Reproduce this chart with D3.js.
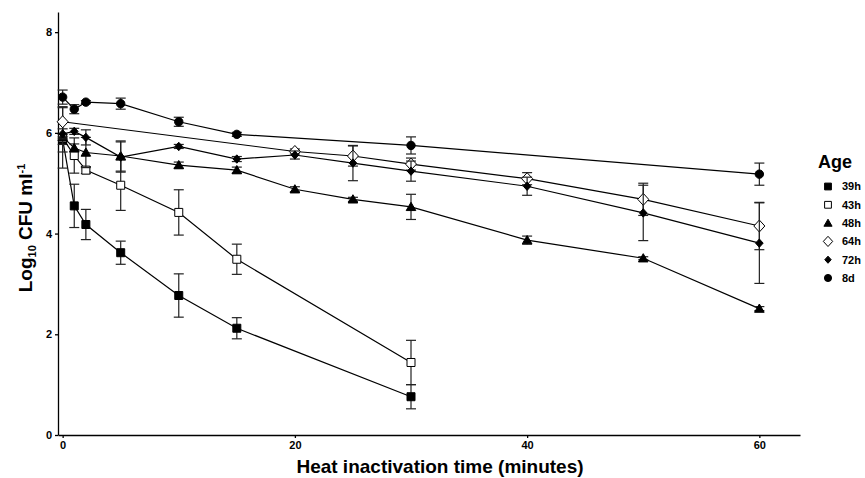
<!DOCTYPE html>
<html lang="en">
<head>
  <meta charset="UTF-8">
  <title>Heat inactivation by age</title>
  <script src="https://d3js.org/d3.v7.min.js"></script>
  <style>
    body {
      margin: 0;
      padding: 0;
      background: #fff;
      font-family: Arial, 'Liberation Sans', sans-serif;
    }
    .axis text {
      font-size: 11px;
      font-weight: bold;
      fill: #000;
    }
    .axis path, .axis line {
      stroke: #000;
      stroke-width: 1.3px;
    }
    .title {
      font-size: 19px;
      font-weight: bold;
      fill: #000;
    }
    .legend text {
      font-size: 11px;
      font-weight: bold;
    }
  </style>
</head>
<body>
<svg id="chart" width="865" height="478"></svg>
<script>
// Data: time (min), mean log10 CFU/ml, error
const ages = ["39h", "43h", "48h", "64h", "72h", "8d"];

const t39h = [0, 1, 2, 5, 10, 15, 30];
const m39h = [5.87, 4.55, 4.18, 3.62, 2.77, 2.12, 0.76];
const e39h = [0.10, 0.43, 0.30, 0.23, 0.43, 0.21, 0.24];

const t43h = [0, 1, 2, 5, 10, 15, 30];
const m43h = [5.90, 5.55, 5.26, 4.96, 4.42, 3.49, 1.44];
const e43h = [0.60, 0.35, 0.07, 0.50, 0.45, 0.30, 0.44];

const t48h = [0, 1, 2, 5, 10, 15, 20, 25, 30, 40, 50, 60];
const m48h = [5.92, 5.70, 5.61, 5.54, 5.36, 5.26, 4.88, 4.68, 4.53, 3.87, 3.51, 2.51];
const e48h = [0.30, 0.08, 0.30, 0.30, 0.06, 0.06, 0.05, 0.04, 0.25, 0.08, 0.03, 0.04];

const t64h = [0, 20, 25, 30, 40, 50, 60];
const m64h = [6.22, 5.63, 5.54, 5.38, 5.09, 4.68, 4.15];
const e64h = [0.30, 0.05, 0.20, 0.12, 0.12, 0.32, 0.47];

const t72h = [0, 1, 2, 5, 10, 15, 20, 25, 30, 40, 50, 60];
const m72h = [5.98, 6.03, 5.91, 5.52, 5.73, 5.48, 5.56, 5.40, 5.24, 4.94, 4.41, 3.81];
const e72h = [0.10, 0.06, 0.15, 0.30, 0.04, 0.05, 0.08, 0.35, 0.20, 0.18, 0.55, 0.80];

const t8d = [0, 1, 2, 5, 10, 15, 30, 60];
const m8d = [6.71, 6.47, 6.61, 6.58, 6.22, 5.97, 5.75, 5.18];
const e8d = [0.14, 0.09, 0.03, 0.11, 0.09, 0.04, 0.17, 0.22];

const xTicks = [0, 20, 40, 60];
const yTicks = [0, 2, 4, 6, 8];

const series = [
  {name: ages[0], t: t39h, m: m39h, e: e39h, shape: "square", fill: "#000"},
  {name: ages[1], t: t43h, m: m43h, e: e43h, shape: "square", fill: "#fff"},
  {name: ages[2], t: t48h, m: m48h, e: e48h, shape: "triangle", fill: "#000"},
  {name: ages[3], t: t64h, m: m64h, e: e64h, shape: "diamond", fill: "#fff"},
  {name: ages[4], t: t72h, m: m72h, e: e72h, shape: "smalldiamond", fill: "#000"},
  {name: ages[5], t: t8d, m: m8d, e: e8d, shape: "circle", fill: "#000"}
];

const svg = d3.select("#chart");

const x = d3.scaleLinear().domain([-0.4, 63.5]).range([58, 800]);
const y = d3.scaleLinear().domain([0, 8.4]).range([435, 12]);

// marker path for each shape, centred on 0,0
function shapePath(shape, k) {
  k = k || 1;
  if (shape === "square") {
    const s = 4 * k;
    return `M${-s},${-s}H${s}V${s}H${-s}Z`;
  }
  if (shape === "triangle") {
    const w = 4.8 * k, h = 4.6 * k;
    return `M0,${-h}L${w},${h * 0.8}L${-w},${h * 0.8}Z`;
  }
  if (shape === "diamond") {
    const w = 5.5 * k, h = 6 * k;
    return `M0,${-h}L${w},0L0,${h}L${-w},0Z`;
  }
  if (shape === "smalldiamond") {
    const w = 3.8 * k, h = 4.2 * k;
    return `M0,${-h}L${w},0L0,${h}L${-w},0Z`;
  }
  const r = 4.2 * k;
  return `M${r},0A${r},${r} 0 1,1 ${-r},0A${r},${r} 0 1,1 ${r},0Z`;
}

// axes
svg.append("g")
  .attr("class", "axis")
  .attr("transform", "translate(58,0)")
  .call(d3.axisLeft(y).tickValues(yTicks).tickSize(3).tickSizeOuter(0).tickPadding(3));

svg.append("g")
  .attr("class", "axis")
  .attr("transform", "translate(0,435)")
  .call(d3.axisBottom(x).tickValues(xTicks).tickSize(3).tickSizeOuter(0).tickPadding(3));

const line = d3.line().x(d => x(d[0])).y(d => y(d[1]));

series.forEach(s => {
  const pts = s.t.map((t, i) => [t, s.m[i], s.e[i]]);
  const g = svg.append("g");

  g.append("path")
    .attr("d", line(pts))
    .attr("fill", "none")
    .attr("stroke", "#000")
    .attr("stroke-width", 1.2);

  const eb = g.selectAll(".eb").data(pts).enter().append("g").attr("class", "eb");
  eb.append("line")
    .attr("x1", d => x(d[0])).attr("x2", d => x(d[0]))
    .attr("y1", d => y(d[1] + d[2])).attr("y2", d => y(d[1] - d[2]));
  eb.append("line")
    .attr("x1", d => x(d[0]) - 5).attr("x2", d => x(d[0]) + 5)
    .attr("y1", d => y(d[1] + d[2])).attr("y2", d => y(d[1] + d[2]));
  eb.append("line")
    .attr("x1", d => x(d[0]) - 5).attr("x2", d => x(d[0]) + 5)
    .attr("y1", d => y(d[1] - d[2])).attr("y2", d => y(d[1] - d[2]));
  eb.selectAll("line").attr("stroke", "#222").attr("stroke-width", 1.2);

  g.selectAll(".pt").data(pts).enter().append("path")
    .attr("class", "pt")
    .attr("transform", d => `translate(${x(d[0])},${y(d[1])})`)
    .attr("d", shapePath(s.shape))
    .attr("fill", s.fill)
    .attr("stroke", "#000")
    .attr("stroke-width", 1);
});

// axis titles
const yt = svg.append("text")
  .attr("class", "title")
  .attr("transform", "translate(32,228) rotate(-90)")
  .attr("text-anchor", "middle");
yt.append("tspan").text("Log");
yt.append("tspan").attr("font-size", "11px").attr("dy", 4).text("10");
yt.append("tspan").attr("dy", -4).text(" CFU ml");
yt.append("tspan").attr("font-size", "11px").attr("dy", -7).text("-1");

svg.append("text")
  .attr("class", "title")
  .attr("x", 440)
  .attr("y", 473)
  .attr("text-anchor", "middle")
  .text("Heat inactivation time (minutes)");

// legend
const legend = svg.append("g").attr("class", "legend");
legend.append("text")
  .attr("x", 818).attr("y", 168)
  .style("font-size", "18px")
  .text("Age");

const item = legend.selectAll(".item").data(series).enter().append("g")
  .attr("class", "item")
  .attr("transform", (d, i) => `translate(828,${186.5 + i * 18.3})`);
item.append("path")
  .attr("d", d => shapePath(d.shape, 0.85))
  .attr("fill", d => d.fill)
  .attr("stroke", "#000")
  .attr("stroke-width", 1);
item.append("text")
  .attr("x", 14).attr("dy", "0.35em")
  .text(d => d.name);
</script>
</body>
</html>
